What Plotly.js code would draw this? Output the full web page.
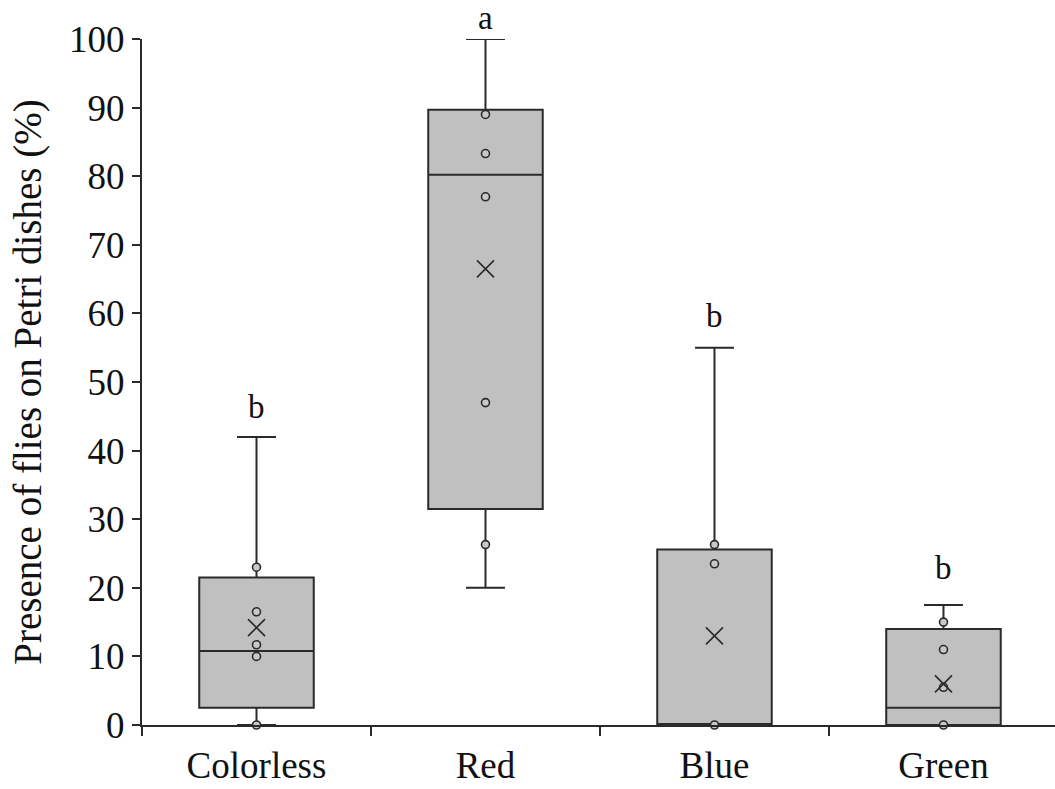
<!DOCTYPE html>
<html>
<head>
<meta charset="utf-8">
<script src="https://cdn.plot.ly/plotly-3.0.1.min.js"></script>
<style>html,body{margin:0;padding:0;background:#fff;}#chart{width:1055px;height:789px;}</style>
</head>
<body>
<div id="chart"></div>
<script>
var categories = ["Colorless", "Red", "Blue", "Green"];
var q1 = [2.5, 31.5, 0, 0];
var medians = [10.8, 80.2, 0, 2.5];
var q3 = [21.5, 89.7, 25.6, 14];
var lowerWhisker = [0, 20, 0, 0];
var upperWhisker = [42, 100, 55, 17.5];
var means = [14.2, 66.5, 13, 6];
var pointCats = ["Colorless","Colorless","Colorless","Colorless","Colorless",
                 "Red","Red","Red","Red","Red",
                 "Blue","Blue","Blue",
                 "Green","Green","Green","Green"];
var pointVals = [23, 16.5, 11.7, 10, 0,
                 89, 83.3, 77, 47, 26.3,
                 26.3, 23.5, 0,
                 15, 11, 5.5, 0];
var letters = ["b", "a", "b", "b"];
var letterY = [46.3, 103.0, 59.6, 22.9];

var serif = "Liberation Serif, Times New Roman, serif";

var traces = [
  {
    type: "box",
    x: categories,
    q1: q1, median: medians, q3: q3,
    lowerfence: lowerWhisker, upperfence: upperWhisker,
    width: 0.5,
    whiskerwidth: 0.34,
    fillcolor: "#c0c0c0",
    line: {color: "#2a2a2a", width: 2},
    boxpoints: false,
    hoverinfo: "skip",
    showlegend: false
  },
  {
    type: "scatter",
    mode: "markers",
    x: pointCats,
    y: pointVals,
    marker: {symbol: "circle", size: 8, color: "#c8c8c8", line: {color: "#2a2a2a", width: 1.6}},
    cliponaxis: false,
    showlegend: false
  },
  {
    type: "scatter",
    mode: "markers",
    x: categories,
    y: means,
    marker: {symbol: "x-thin", size: 17, color: "#2a2a2a", line: {color: "#2a2a2a", width: 1.6}},
    cliponaxis: false,
    showlegend: false
  }
];

var annotations = categories.map(function(c, i) {
  return {x: c, y: letterY[i] / 100, xref: "x", yref: "paper", yanchor: "middle", xanchor: "center",
          text: letters[i], showarrow: false,
          font: {family: serif, size: 33, color: "#111"}};
});

var layout = {
  width: 1055, height: 789,
  margin: {l: 142, r: 0, t: 39, b: 64},
  paper_bgcolor: "#fff", plot_bgcolor: "#fff",
  showlegend: false,
  annotations: annotations,
  xaxis: {
    type: "category",
    categoryarray: categories,
    range: [-0.5, 3.487],
    showgrid: false, zeroline: false,
    showline: true, linecolor: "#2a2a2a", linewidth: 2,
    ticks: "outside", tickson: "boundaries", ticklen: 9, tickwidth: 2, tickcolor: "#2a2a2a",
    ticklabelstandoff: 7,
    tickfont: {family: serif, size: 37, color: "#111"}
  },
  yaxis: {
    range: [0, 100],
    tickmode: "linear", tick0: 0, dtick: 10,
    showgrid: false, zeroline: false,
    showline: true, linecolor: "#2a2a2a", linewidth: 2,
    ticks: "outside", ticklen: 8, tickwidth: 2, tickcolor: "#2a2a2a",
    tickfont: {family: serif, size: 37, color: "#111"},
    title: {text: "Presence of flies on Petri dishes (%)", font: {family: serif, size: 39, color: "#111"}, standoff: 15}
  }
};

Plotly.newPlot("chart", traces, layout, {displayModeBar: false, staticPlot: true});
</script>
</body>
</html>
